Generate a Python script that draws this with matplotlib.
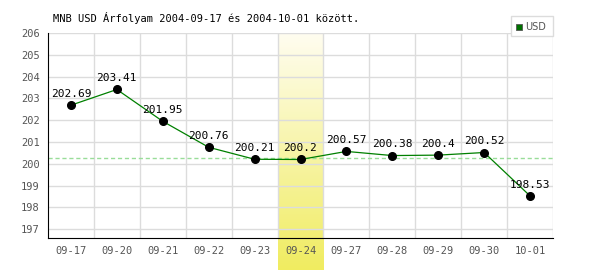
import matplotlib
matplotlib.use("Agg")
import matplotlib.pyplot as plt
import matplotlib.transforms as mtransforms
from matplotlib.colors import LinearSegmentedColormap
from matplotlib.patches import Rectangle
import numpy as np

dates = ["09-17", "09-20", "09-21", "09-22", "09-23", "09-24", "09-27", "09-28", "09-29", "09-30", "10-01"]
values = [202.69, 203.41, 201.95, 200.76, 200.21, 200.2, 200.57, 200.38, 200.4, 200.52, 198.53]
labels = ["202.69", "203.41", "201.95", "200.76", "200.21", "200.2", "200.57", "200.38", "200.4", "200.52", "198.53"]
highlight_idx = 5
ref_value = 200.25
yticks = list(range(197, 207))
title = "MNB USD Árfolyam 2004-09-17 és 2004-10-01 között."

mono = "DejaVu Sans Mono"
fs = 7.5
fig = plt.figure(figsize=(6, 2.7), dpi=100)
ax = fig.add_axes([48/600, 32/270, 505/600, 205/270])
x = np.arange(len(dates))
ax.set_xlim(-0.5, len(dates) - 0.5)
ax.set_ylim(196.6, 206.0)

trans = mtransforms.blended_transform_factory(ax.transData, ax.transAxes)
grad = np.linspace(0, 1, 256).reshape(-1, 1)
cmap = LinearSegmentedColormap.from_list("yl", ["#fffdf0", "#f0ec60"])
ax.imshow(grad, cmap=cmap, aspect="auto", origin="upper",
          extent=(highlight_idx - 0.5, highlight_idx + 0.5, -32/205, 1.0),
          transform=trans, clip_on=False, zorder=0)

for yv in yticks:
    ax.axhline(yv, color="#dcdcdc", lw=1, zorder=1)
for xv in np.arange(0.5, len(dates), 1):
    ax.axvline(xv, color="#dcdcdc", lw=1, zorder=1)

ax.axhline(ref_value, color="#99dd99", lw=1, ls=(0, (3, 2)), zorder=2)
ax.plot(x, values, color="#008000", lw=0.9, zorder=3)
ax.plot(x, values, "o", color="black", ms=5.5, zorder=4)
for xi, v, l in zip(x, values, labels):
    ax.annotate(l, (xi, v), xytext=(0, 4.5), textcoords="offset points",
                ha="center", va="bottom", fontsize=fs + 0.5, family=mono, color="black", zorder=5)

ax.set_xticks(x)
ax.set_xticklabels(dates, family=mono, fontsize=fs, color="#555555")
ax.set_yticks(yticks)
ax.set_yticklabels([str(v) for v in yticks], family=mono, fontsize=fs, color="#555555")
ax.tick_params(length=0, pad=6)
for s in ["top", "right"]:
    ax.spines[s].set_visible(False)
for s in ["left", "bottom"]:
    ax.spines[s].set_color("black")
    ax.spines[s].set_zorder(6)

fig.text(53/600, 1 - 18/270, title, family=mono, fontsize=fs, va="center", ha="left")

lx0, ly0, lw, lh = 511, 16, 42, 20
fig.patches.append(Rectangle((lx0/600, 1 - (ly0 + lh)/270), lw/600, lh/270,
                             transform=fig.transFigure, facecolor="white", edgecolor="#dcdcdc", lw=1, zorder=10))
fig.patches.append(Rectangle((516/600, 1 - 30/270), 6/600, 6/270, transform=fig.transFigure,
                             facecolor="#007000", edgecolor="#555555", lw=0.6, zorder=11))
fig.text(525/600, 1 - 26.5/270, "USD", fontsize=7, color="#555555", va="center", ha="left", zorder=12)

fig.savefig("out.png", dpi=100)
